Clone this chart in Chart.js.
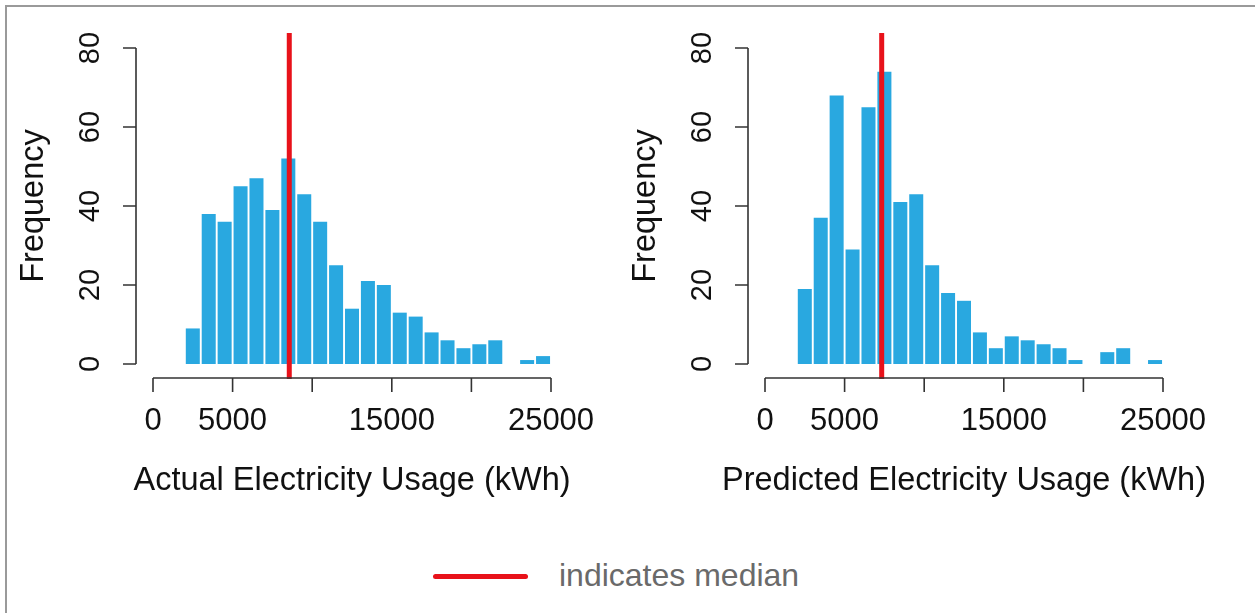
<!DOCTYPE html>
<html>
<head>
<meta charset="utf-8">
<script src="https://cdn.jsdelivr.net/npm/chart.js@4.4.1/dist/chart.umd.min.js"></script>
<style>
  body { margin: 0; background: #fff; font-family: "Liberation Sans", Arial, sans-serif; }
  #wrap { position: relative; width: 1255px; height: 613px; overflow: hidden; }
  #frame { position: absolute; left: 5px; top: 5px; width: 1400px; height: 700px;
           border-left: 2px solid #9a9a9a; border-top: 2px solid #9a9a9a; }
  canvas { position: absolute; top: 0; }
  #leftChart { left: 0; }
  #rightChart { left: 612px; }
  .legend-line { position: absolute; left: 433px; top: 574px; width: 95px; height: 5px;
                 background: #e8121a; border-radius: 3px; }
  .legend-text { position: absolute; left: 559px; top: 557px; font-size: 32px; color: #6a6a6a; }
</style>
</head>
<body>
<div id="wrap">
  <div id="frame"></div>
  <canvas id="leftChart" width="612" height="520"></canvas>
  <canvas id="rightChart" width="643" height="520"></canvas>
  <div class="legend-line"></div>
  <div class="legend-text">indicates median</div>
</div>
<script>
// histogram bins (kWh), width 1000
const binStarts = [2000, 3000, 4000, 5000, 6000, 7000, 8000, 9000, 10000, 11000, 12000, 13000,
  14000, 15000, 16000, 17000, 18000, 19000, 20000, 21000, 22000, 23000, 24000];
const binWidth = 1000;
const actualCounts = [9, 38, 36, 45, 47, 39, 52, 43, 36, 25, 14, 21, 20, 13, 12, 8, 6, 4, 5, 6, 0, 1, 2];
const predictedCounts = [19, 37, 68, 29, 65, 74, 41, 43, 25, 18, 16, 8, 4, 7, 6, 5, 4, 1, 0, 3, 4, 0, 1];
const actualMedian = 8560;
const predictedMedian = 7330;

const xTicks = [0, 5000, 10000, 15000, 20000, 25000];
const xTickLabels = ["0", "5000", "", "15000", "", "25000"];
const yTicks = [0, 20, 40, 60, 80];

const BAR_COLOR = "#29a8e0";
const RED = "#e8121a";
const FONT = "'Liberation Sans', Arial, sans-serif";

// R-style detached axes
const rAxes = {
  id: "rAxes",
  afterDraw(chart, args, opts) {
    const { ctx, chartArea, scales } = chart;
    const xs = scales.x, ys = scales.y;
    const axX = chartArea.left - 17;
    const axY = chartArea.bottom + 14;
    ctx.save();
    ctx.strokeStyle = "#333";
    ctx.lineWidth = 1.6;
    ctx.fillStyle = "#111";

    // y axis
    ctx.beginPath();
    ctx.moveTo(axX, ys.getPixelForValue(yTicks[0]));
    ctx.lineTo(axX, ys.getPixelForValue(yTicks[yTicks.length - 1]));
    yTicks.forEach((v) => {
      const y = ys.getPixelForValue(v);
      ctx.moveTo(axX, y);
      ctx.lineTo(axX - 13, y);
    });
    ctx.stroke();
    ctx.font = "29px " + FONT;
    ctx.textAlign = "center";
    ctx.textBaseline = "alphabetic";
    yTicks.forEach((v) => {
      ctx.save();
      ctx.translate(axX - 37, ys.getPixelForValue(v));
      ctx.rotate(-Math.PI / 2);
      ctx.fillText(String(v), 0, 0);
      ctx.restore();
    });

    // x axis
    ctx.beginPath();
    ctx.moveTo(xs.getPixelForValue(xTicks[0]), axY);
    ctx.lineTo(xs.getPixelForValue(xTicks[xTicks.length - 1]), axY);
    xTicks.forEach((v) => {
      const x = xs.getPixelForValue(v);
      ctx.moveTo(x, axY);
      ctx.lineTo(x, axY + 14);
    });
    ctx.stroke();
    ctx.font = "31px " + FONT;
    xTicks.forEach((v, i) => {
      if (xTickLabels[i]) ctx.fillText(xTickLabels[i], xs.getPixelForValue(v), axY + 52);
    });

    // axis titles
    ctx.font = "32.5px " + FONT;
    ctx.fillText(opts.xTitle, (chartArea.left + chartArea.right) / 2, axY + 112);
    ctx.save();
    ctx.translate(chartArea.left - 110, (ys.getPixelForValue(0) + ys.getPixelForValue(80)) / 2);
    ctx.rotate(-Math.PI / 2);
    ctx.fillText("Frequency", 0, 0);
    ctx.restore();

    ctx.restore();
  },
};

function makeHist(id, counts, median, xTitle, rightPad) {
  const bars = binStarts.map((s, i) => ({ x: s + binWidth / 2, y: counts[i] }));
  new Chart(document.getElementById(id), {
    type: "bar",
    data: {
      datasets: [
        {
          type: "line",
          data: [{ x: median, y: -3.8 }, { x: median, y: 83.8 }],
          borderColor: RED,
          borderWidth: 5,
          pointRadius: 0,
          clip: false,
          order: 0,
        },
        {
          data: bars,
          backgroundColor: BAR_COLOR,
          borderWidth: 0,
          barPercentage: 0.88,
          categoryPercentage: 1,
          order: 1,
        },
      ],
    },
    options: {
      responsive: false,
      animation: false,
      layout: { padding: { left: 153, top: 48, right: rightPad, bottom: 156 } },
      scales: {
        x: { type: "linear", min: 0, max: 25000, offset: false, display: false },
        y: { min: 0, max: 80, display: false },
      },
      plugins: {
        legend: { display: false },
        tooltip: { enabled: false },
        rAxes: { xTitle: xTitle },
      },
    },
    plugins: [rAxes],
  });
}

makeHist("leftChart", actualCounts, actualMedian, "Actual Electricity Usage (kWh)", 61);
makeHist("rightChart", predictedCounts, predictedMedian, "Predicted Electricity Usage (kWh)", 92);
</script>
</body>
</html>
